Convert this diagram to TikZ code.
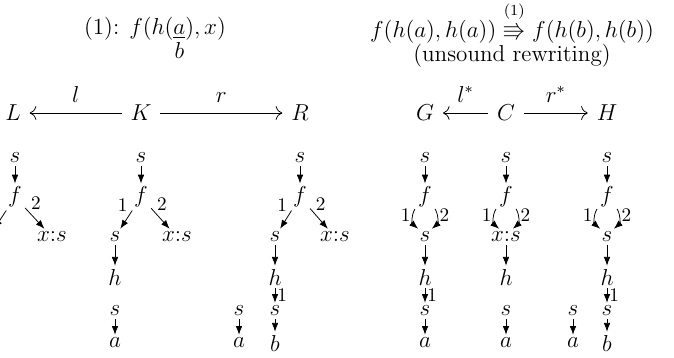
\documentclass[12pt,tikz,border=0pt]{standalone}
\usepackage{amsmath,amssymb}
\usetikzlibrary{arrows.meta}
\tikzset{
  vx/.style={inner sep=1.5pt},
  num/.style={font=\footnotesize, inner sep=1pt},
  pre/.style={-{Latex[length=1.6mm, width=1.2mm]}},
  mor/.style={-{To[length=1.2mm]}, shorten <=3pt, shorten >=3pt},
  two/.style={pre, bend right=40},
  twor/.style={pre, bend left=40},
}

\begin{document}
\begin{tikzpicture}[x=0.52pt,y=0.52pt, every node/.append style={vx}]
\useasboundingbox (0,0) rectangle (674,-357);
\clip (0,0) rectangle (674,-357);
% titles
\node[anchor=base] (t1) at (155,-34) {(1): $f(h(\underset{\raisebox{-3pt}{$\displaystyle b$}}{\underline{a}}),x)$};
\node[anchor=base] (t2) at (512,-37) {$f(h(a),h(a)) \overset{(1)}{\Rrightarrow} f(h(b),h(b))$};
\node[anchor=base] (t3) at (512,-61) {(unsound rewriting)};
% spans
\node (L) at (13,-113) {$L$};
\node (K) at (141,-113) {$K$};
\node (R) at (300,-113) {$R$};
\draw[mor] (K) -- node[above=4pt]{$l$} (L);
\draw[mor] (K) -- node[above=4pt]{$r$} (R);
\node (G) at (425,-113) {$G$};
\node (C) at (506,-113) {$C$};
\node (H) at (607,-113) {$H$};
\draw[mor] (C) -- node[above=4pt]{$l^*$} (G);
\draw[mor] (C) -- node[above=4pt]{$r^*$} (H);
% L
\node (Ls) at (15,-158) {$s$};
\node (Lf) at (15,-197) {$f$};
\node (Ls1) at (-11,-237) {$s$};
\node (Lx) at (52,-237) {$x{:}s$};
\node (Lh) at (-11,-277) {$h$};
\node (Ls2) at (-11,-311) {$s$};
\node (La) at (-11,-343) {$a$};
\draw[pre] (Ls) -- (Lf);
\draw[pre] (Lf) -- node[num, pos=0.2, above left]{1} (Ls1);
\draw[pre] (Lf) -- node[num, pos=0.2, above right]{2} (Lx);
\draw[pre] (Ls1) -- (Lh);
\draw[pre] (Lh) -- node[num, right]{1} (Ls2);
\draw[pre] (Ls2) -- (La);
% K
\node (Ks) at (141,-158) {$s$};
\node (Kf) at (141,-197) {$f$};
\node (Ks1) at (115,-237) {$s$};
\node (Kx) at (177,-237) {$x{:}s$};
\node (Kh) at (115,-277) {$h$};
\node (Ks2) at (115,-311) {$s$};
\node (Ka) at (115,-343) {$a$};
\draw[pre] (Ks) -- (Kf);
\draw[pre] (Kf) -- node[num, pos=0.2, above left]{1} (Ks1);
\draw[pre] (Kf) -- node[num, pos=0.2, above right]{2} (Kx);
\draw[pre] (Ks1) -- (Kh);
\draw[pre] (Ks2) -- (Ka);
% R
\node (Rs) at (300,-158) {$s$};
\node (Rf) at (300,-197) {$f$};
\node (Rs1) at (275,-237) {$s$};
\node (Rx) at (335,-237) {$x{:}s$};
\node (Rh) at (275,-277) {$h$};
\node (Rs2) at (275,-311) {$s$};
\node (Rb) at (275,-343) {$b$};
\node (Rs3) at (239,-311) {$s$};
\node (Ra) at (239,-343) {$a$};
\draw[pre] (Rs) -- (Rf);
\draw[pre] (Rf) -- node[num, pos=0.2, above left]{1} (Rs1);
\draw[pre] (Rf) -- node[num, pos=0.2, above right]{2} (Rx);
\draw[pre] (Rs1) -- (Rh);
\draw[pre] (Rh) -- node[num, right]{1} (Rs2);
\draw[pre] (Rs2) -- (Rb);
\draw[pre] (Rs3) -- (Ra);
% G
\node (Gs) at (425,-158) {$s$};
\node (Gf) at (425,-197) {$f$};
\node (Gs1) at (425,-237) {$s$};
\node (Gh) at (425,-277) {$h$};
\node (Gs2) at (425,-311) {$s$};
\node (Ga) at (425,-343) {$a$};
\draw[pre] (Gs) -- (Gf);
\draw[two] (Gf) to node[num, pos=0.3, left]{1} (Gs1);
\draw[twor] (Gf) to node[num, pos=0.3, right]{2} (Gs1);
\draw[pre] (Gs1) -- (Gh);
\draw[pre] (Gh) -- node[num, right]{1} (Gs2);
\draw[pre] (Gs2) -- (Ga);
% C
\node (Cs) at (506,-158) {$s$};
\node (Cf) at (506,-197) {$f$};
\node (Cx) at (506,-237) {$x{:}s$};
\node (Ch) at (506,-277) {$h$};
\node (Cs2) at (506,-311) {$s$};
\node (Ca) at (506,-343) {$a$};
\draw[pre] (Cs) -- (Cf);
\draw[two] (Cf) to node[num, pos=0.3, left]{1} (Cx);
\draw[twor] (Cf) to node[num, pos=0.3, right]{2} (Cx);
\draw[pre] (Cx) -- (Ch);
\draw[pre] (Cs2) -- (Ca);
% H
\node (Hs) at (607,-158) {$s$};
\node (Hf) at (607,-197) {$f$};
\node (Hs1) at (607,-237) {$s$};
\node (Hh) at (607,-277) {$h$};
\node (Hs2) at (607,-311) {$s$};
\node (Hb) at (607,-343) {$b$};
\node (Hs3) at (573,-311) {$s$};
\node (Ha) at (573,-343) {$a$};
\draw[pre] (Hs) -- (Hf);
\draw[two] (Hf) to node[num, pos=0.3, left]{1} (Hs1);
\draw[twor] (Hf) to node[num, pos=0.3, right]{2} (Hs1);
\draw[pre] (Hs1) -- (Hh);
\draw[pre] (Hh) -- node[num, right]{1} (Hs2);
\draw[pre] (Hs2) -- (Hb);
\draw[pre] (Hs3) -- (Ha);
\end{tikzpicture}
\end{document}
